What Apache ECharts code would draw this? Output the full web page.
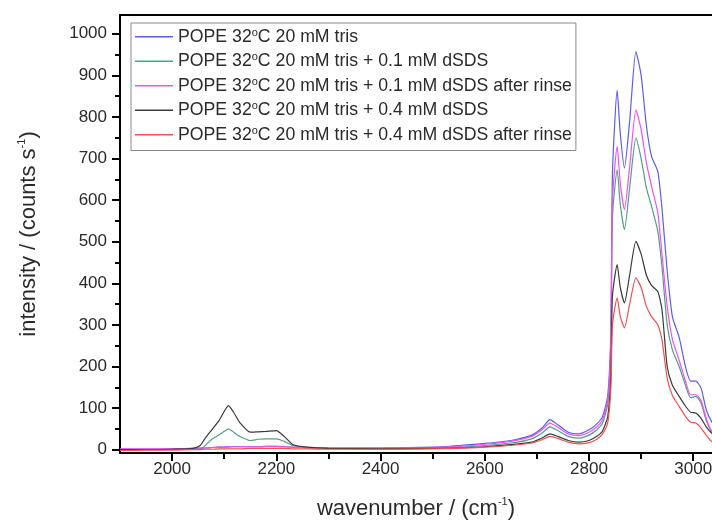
<!DOCTYPE html>
<html>
<head>
<meta charset="utf-8">
<script src="https://cdn.jsdelivr.net/npm/echarts@6/dist/echarts.min.js"></script>
<style>
  html, body { margin: 0; padding: 0; background: #fff; }
  #chart { width: 712px; height: 522px; }
</style>
</head>
<body>
<div id="chart"></div>
<script>
// wavenumber (cm-1) sample points shared by all spectra
const wavenumbers = [1900,1950,2000,2040,2054,2062,2075,2090,2100,2108,2118,2130,2150,2165,2180,2200,2215,2232,2260,2300,2400,2500,2550,2600,2650,2690,2710,2725,2740,2760,2780,2800,2815,2826,2836,2842,2845,2854,2860,2868,2878,2890,2900,2910,2920,2932,2940,2950,2960,2973,2985,2995,3005,3015,3025,3035,3050];

const trisOnly = [1,1,2,3,3,4,5,6,6,7,7,7,7,7,8,8,7,6,5,4,4,6,10,15,22,35,52,72,60,42,38,48,62,80,130,290,665,864,760,677,790,957,900,780,705,669,580,430,320,270,200,165,165,148,96,68,45];
const dsds01 = [1,1,1,2,3,8,24,35,44,50,42,32,22,25,26,26,20,10,5,3,3,4,6,10,16,26,40,55,46,32,28,35,48,64,110,250,560,673,590,529,630,749,700,630,585,525,440,300,240,200,155,125,128,112,70,45,30];
const dsds01Rinse = [2,2,2,3,4,4,5,6,6,6,7,7,7,7,8,8,7,6,5,4,4,5,8,13,20,32,48,64,54,38,34,42,55,72,120,270,600,729,640,577,680,817,770,690,633,570,470,345,265,215,165,132,132,118,75,44,30];
const dsds04 = [0,0,1,3,10,25,46,70,92,106,90,65,42,43,44,46,32,12,6,3,2,3,4,7,12,18,28,38,32,22,18,22,32,45,80,180,370,445,390,353,420,501,470,420,395,380,337,200,155,128,105,90,88,75,55,40,28];
const dsds04Rinse = [-2,-1,-1,0,0,1,1,2,2,2,2,2,3,3,3,3,3,2,2,1,1,2,3,6,10,16,24,32,27,18,14,17,25,38,65,150,300,365,320,293,350,413,390,345,320,300,264,172,130,104,80,66,64,52,35,20,12];

const seriesNames = [
  'POPE 32°C 20 mM tris',
  'POPE 32°C 20 mM tris + 0.1 mM dSDS',
  'POPE 32°C 20 mM tris + 0.1 mM dSDS after rinse',
  'POPE 32°C 20 mM tris + 0.4 mM dSDS',
  'POPE 32°C 20 mM tris + 0.4 mM dSDS after rinse'
];
const seriesValues = [trisOnly, dsds01, dsds01Rinse, dsds04, dsds04Rinse];
const seriesColors = ['#5b5bf0', '#4f9f88', '#f050f0', '#3a3a3a', '#f05050'];

const xMajor = [2000, 2200, 2400, 2600, 2800, 3000];
const xMinor = [2100, 2300, 2500, 2700, 2900];
const yMajor = [0, 100, 200, 300, 400, 500, 600, 700, 800, 900, 1000];
const yMinor = [50, 150, 250, 350, 450, 550, 650, 750, 850, 950];

const FONT = 'Liberation Sans, Arial, sans-serif';
const TEXT = '#2a2a2a';
const sup = { fontSize: 11, lineHeight: 9, verticalAlign: 'top', color: TEXT, fontFamily: FONT };
const plain = (v) => String(v);

const chart = echarts.init(document.getElementById('chart'));

const axisBase = (min, max) => ({
  type: 'value',
  min: min,
  max: max,
  splitLine: { show: false }
});

chart.setOption({
  backgroundColor: '#fff',
  animation: false,
  textStyle: { fontFamily: FONT },
  grid: { left: 120, top: 15, right: 0, bottom: 69, outerBoundsMode: 'none' },
  legend: {
    orient: 'vertical',
    left: 131,
    top: 23,
    icon: 'rect',
    itemWidth: 38,
    itemHeight: 1.5,
    itemGap: 5,
    padding: [4, 4, 6, 4],
    backgroundColor: '#fff',
    borderColor: '#8a8a8a',
    borderWidth: 1,
    borderRadius: 0,
    formatter: (name) => name.replace('°', '{sup|o}'),
    textStyle: { fontSize: 17.7, lineHeight: 19.5, color: TEXT, fontFamily: FONT, rich: { sup: sup } }
  },
  xAxis: [
    Object.assign(axisBase(1900, 3036), {
      position: 'bottom',
      name: 'wavenumber / (cm{sup|-1})',
      nameLocation: 'middle',
      nameGap: 43,
      nameTextStyle: { fontSize: 22, lineHeight: 25, color: TEXT, fontFamily: FONT, rich: { sup: sup } },
      axisLine: { onZero: false, lineStyle: { color: '#000', width: 2 } },
      axisTick: { customValues: xMajor, length: 8, lineStyle: { color: '#000', width: 2 } },
      axisLabel: { customValues: xMajor, formatter: plain, fontSize: 17, color: TEXT, margin: 8 }
    }),
    Object.assign(axisBase(1900, 3036), {
      position: 'bottom',
      axisLine: { show: false, onZero: false },
      axisTick: { customValues: xMinor, length: 6, lineStyle: { color: '#000', width: 2 } },
      axisLabel: { show: false }
    }),
    Object.assign(axisBase(1900, 3036), {
      position: 'top',
      axisLine: { onZero: false, lineStyle: { color: '#000', width: 2 } },
      axisTick: { show: false },
      axisLabel: { show: false }
    })
  ],
  yAxis: [
    Object.assign(axisBase(-8, 1045), {
      position: 'left',
      name: 'intensity / (counts s{sup|-1})',
      nameLocation: 'middle',
      nameGap: 79,
      nameTextStyle: { fontSize: 22, lineHeight: 25, color: TEXT, fontFamily: FONT, rich: { sup: sup } },
      axisLine: { onZero: false, lineStyle: { color: '#000', width: 2 } },
      axisTick: { customValues: yMajor, length: 8, lineStyle: { color: '#000', width: 2 } },
      axisLabel: { customValues: yMajor, formatter: plain, fontSize: 17, color: TEXT, margin: 13 }
    }),
    Object.assign(axisBase(-8, 1045), {
      position: 'left',
      axisLine: { show: false, onZero: false },
      axisTick: { customValues: yMinor, length: 5, lineStyle: { color: '#000', width: 2 } },
      axisLabel: { show: false }
    })
  ],
  series: seriesNames.map((name, i) => ({
    name: name,
    type: 'line',
    xAxisIndex: 0,
    yAxisIndex: 0,
    symbol: 'none',
    smooth: 0.2,
    color: seriesColors[i],
    lineStyle: { width: 1.2, color: seriesColors[i] },
    data: wavenumbers.map((w, j) => [w, seriesValues[i][j]])
  }))
});
</script>
</body>
</html>
